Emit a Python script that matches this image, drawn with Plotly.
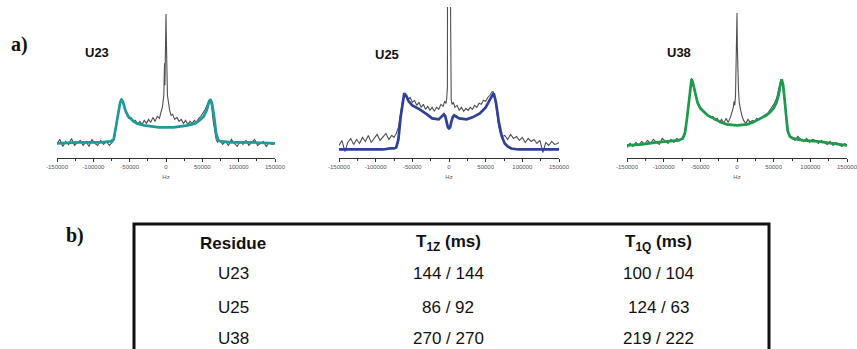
import plotly.graph_objects as go

# ---------------- data ----------------
tick_vals = [-150000, -100000, -50000, 0, 50000, 100000, 150000]
tick_text = ["-150000", "-100000", "-50000", "0", "50000", "100000", "150000"]
minor_vals = [-125000, -75000, -25000, 25000, 75000, 125000]

panel_names = ["U23", "U25", "U38"]
fit_colors = ["#1f9a9b", "#2e3f9c", "#1d9a4c"]

# U23 experimental (x in kHz, intensity)
u23_exp_x = [-150, -146, -142, -138, -134, -130, -126, -122, -118, -114, -110, -106, -102, -98, -94, -90, -86, -82, -78, -74,
             -71, -69, -67, -65, -63, -61, -59, -57, -54, -51, -48, -45, -42, -39, -36, -33, -30, -27, -24, -21, -18, -15, -12, -9,
             -7, -5, -4, -3, -2.5, -2, -1.5, -1, -0.5, 0, 0.5, 1, 1.5, 2, 3, 4, 5, 7, 9, 12, 15, 18, 21, 24, 27, 30, 33, 36, 39,
             42, 45, 48, 51, 54, 57, 59, 61, 63, 65, 67, 69, 71,
             74, 78, 82, 86, 90, 94, 98, 102, 106, 110, 114, 118, 122, 126, 130, 134, 138, 142, 146, 150]
u23_exp_y = [14, 18, 11, 16, 13, 19, 12, 15, 17, 12, 16, 11, 18, 14, 12, 17, 13, 16, 12, 15,
             19, 30, 42, 50, 56, 59, 54, 48, 43, 39, 40, 35, 37, 33, 36, 33, 37, 34, 38, 35, 40, 36, 41, 39,
             45, 50, 56, 62, 78, 94, 72, 90, 120, 143, 118, 84, 70, 62, 57, 51, 47, 42, 43, 38, 40, 36, 38, 34, 37, 33, 36, 34, 37,
             35, 39, 41, 44, 48, 53, 57, 58, 50, 36, 24, 18, 15,
             17, 13, 16, 12, 18, 14, 11, 16, 13, 17, 12, 15, 18, 12, 14, 16, 11, 15, 13, 14]
u23_fit_x = [-150, -120, -90, -76, -72, -69, -66, -63, -61, -59, -56, -52, -46, -40, -30, -20, -10, 0,
             10, 20, 30, 40, 46, 52, 56, 59, 61, 63, 66, 69, 72, 76, 90, 120, 150]
u23_fit_y = [14, 15, 15, 16, 18, 30, 45, 55, 58, 55, 47, 41, 37, 34, 32, 31, 30, 30,
             30, 31, 32, 34, 37, 41, 47, 55, 58, 55, 42, 24, 17, 16, 15, 15, 14]

# U25 experimental
u25_exp_x = [-150, -146, -142, -138, -134, -130, -126, -122, -118, -114, -110, -106, -102, -98, -94, -90, -86, -82, -78,
             -75, -72, -69, -66, -63, -61, -59, -56, -53, -50, -47, -44, -41, -38, -35, -32, -29, -26, -23, -20, -17, -14,
             -11, -8, -6, -4, -3, -2.2, -2, 0, 2, 2.2, 3, 4, 6, 8, 11, 14, 17, 20, 23, 26, 29, 32, 35, 38, 41, 44, 47, 50,
             53, 56, 58, 60, 62, 64, 66, 68, 70, 73,
             76, 80, 84, 88, 92, 96, 100, 104, 108, 112, 116, 120, 124, 128, 132, 136, 140, 144, 148, 150]
u25_exp_y = [12, 17, 6, 15, 19, 13, 18, 14, 20, 16, 22, 15, 19, 23, 17, 21, 24, 18, 22,
             20, 24, 30, 45, 58, 63, 61, 58, 60, 55, 57, 52, 55, 50, 53, 48, 51, 47, 50, 46, 50, 48,
             53, 51, 56, 54, 60, 70, 160, 165, 160, 70, 58, 53, 55, 50, 52, 47, 50, 46, 49, 47, 50, 48, 52, 50, 54, 53, 57, 56,
             60, 62, 65, 66, 62, 52, 40, 30, 24, 21,
             22, 18, 23, 19, 21, 17, 20, 15, 19, 16, 18, 14, 17, 5, 15, 12, 16, 13, 14, 15]
u25_fit_x = [-150, -120, -90, -80, -75, -72, -69, -66, -63, -61, -58, -55, -50, -40, -30, -23, -14, -10, -7, -5, -3, -1.5, 0,
             1.5, 3, 5, 7, 10, 14, 24, 32, 42, 50, 56, 59, 61, 64, 68, 72, 76, 80, 85, 95, 120, 150]
u25_fit_y = [8, 8, 8, 9, 9, 10, 18, 40, 58, 64, 61, 56, 52, 48, 43, 39, 38, 41, 43, 41, 35, 30, 29,
             30, 35, 40, 42, 41, 39, 38, 40, 44, 50, 58, 62, 64, 55, 35, 21, 14, 11, 9, 8, 8, 8]

# U38 experimental
u38_exp_x = [-150, -146, -142, -138, -134, -130, -126, -122, -118, -114, -110, -106, -102, -98, -94, -90, -86, -82, -78, -74,
             -71, -69, -67, -65, -63, -62, -60, -58, -56, -54, -51, -48, -45, -42, -39, -36, -33, -30, -27, -24, -21, -18, -15,
             -12, -9, -7, -5, -4, -3, -2, -1, -0.5, 0, 0.5, 1, 1.5, 2, 3, 4, 5, 7, 9, 12, 15, 18, 21, 24, 27, 30, 33, 36, 39,
             42, 45, 48, 51, 54, 56, 58, 60, 62, 64, 66, 68, 70, 72,
             75, 79, 83, 87, 91, 95, 99, 103, 107, 111, 115, 119, 123, 127, 131, 135, 139, 143, 147, 150]
u38_exp_y = [10, 14, 11, 15, 12, 16, 13, 17, 14, 18, 15, 13, 19, 16, 14, 18, 15, 19, 17, 20,
             26, 36, 50, 64, 74, 79, 75, 67, 60, 56, 51, 48, 46, 43, 42, 40, 41, 37, 39, 35, 38, 34, 39,
             35, 40, 44, 50, 56, 52, 62, 90, 120, 144, 110, 80, 95, 68, 55, 50, 47, 41, 37, 34, 38, 35, 37, 36, 39, 38, 40, 41, 43,
             44, 47, 50, 54, 59, 65, 72, 78, 74, 62, 45, 32, 25, 21,
             20, 17, 21, 18, 16, 19, 15, 18, 17, 14, 17, 15, 13, 16, 12, 15, 13, 11, 14, 12]
u38_fit_x = [-150, -130, -110, -90, -80, -74, -71, -68, -66, -64, -62, -60, -57, -54, -50, -45, -40, -32, -22, -14, 0,
             14, 22, 32, 40, 45, 50, 54, 57, 59, 61, 63, 65, 67, 69, 72, 76, 90, 110, 130, 150]
u38_fit_y = [12, 13, 15, 16, 17, 19, 24, 40, 55, 70, 78, 74, 63, 55, 49, 45, 42, 39, 35, 33, 32,
             33, 35, 39, 42, 45, 49, 55, 63, 72, 78, 72, 55, 38, 27, 21, 19, 17, 16, 14, 12]

exp_x = [u23_exp_x, u25_exp_x, u38_exp_x]
exp_y = [u23_exp_y, u25_exp_y, u38_exp_y]
fit_x = [u23_fit_x, u25_fit_x, u38_fit_x]
fit_y = [u23_fit_y, u25_fit_y, u38_fit_y]

# table
table_headers = ["<b>Residue</b>", "<b>T<sub>1Z</sub> (ms)</b>", "<b>T<sub>1Q</sub> (ms)</b>"]
residues = ["U23", "U25", "U38"]
t1z = ["144 / 144", "86 / 92", "270 / 270"]
t1q = ["100 / 104", "124 / 63", "219 / 222"]

# ---------------- figure ----------------
W, H = 857, 349
SANS = "Liberation Sans, Arial, sans-serif"
SERIF = "Liberation Serif, Times New Roman, serif"

def px(x):
    return x / W

def py(y):
    return 1 - y / H

x_domains = [(57, 275), (339, 559), (627, 847)]
label_pos = [(97, 52), (387, 54), (679, 52)]
y_domain = [py(157.5), py(7)]

fig = go.Figure()
layout = dict(
    width=W, height=H,
    margin=dict(l=0, r=0, t=0, b=0, pad=0, autoexpand=False),
    paper_bgcolor="white", plot_bgcolor="white",
    showlegend=False,
)
annotations = []

def note(x, y, text, font, xanchor="center"):
    annotations.append(dict(x=px(x), y=py(y), xref="paper", yref="paper", text=text,
                            showarrow=False, xanchor=xanchor, yanchor="middle", font=font))

for i in range(3):
    sfx = "" if i == 0 else str(i + 1)
    xa, ya = "x" + sfx, "y" + sfx
    fig.add_trace(go.Scatter(x=[v * 1000 for v in exp_x[i]], y=exp_y[i], mode="lines",
                             line=dict(color="#4f4f4f", width=1.1), xaxis=xa, yaxis=ya,
                             hoverinfo="skip"))
    fig.add_trace(go.Scatter(x=[v * 1000 for v in fit_x[i]], y=fit_y[i], mode="lines",
                             line=dict(color=fit_colors[i], width=2.7), xaxis=xa, yaxis=ya,
                             hoverinfo="skip"))
    layout["xaxis" + sfx] = dict(
        domain=[px(x_domains[i][0]), px(x_domains[i][1])], anchor=ya, automargin=False,
        range=[-150000, 150000], showgrid=False, zeroline=False,
        showline=True, linecolor="#333", linewidth=1,
        ticks="outside", ticklen=3, tickcolor="#333", tickwidth=1,
        tickvals=tick_vals, ticktext=tick_text, ticklabeloverflow="allow",
        tickfont=dict(family=SANS, size=6, color="#555"),
        minor=dict(tickvals=minor_vals, ticks="outside", ticklen=2, tickcolor="#333"),
        title=dict(text="Hz", font=dict(family=SANS, size=6, color="#555"), standoff=6),
    )
    layout["yaxis" + sfx] = dict(domain=y_domain, anchor=xa, range=[0, 150], visible=False,
                                 automargin=False)
    note(label_pos[i][0], label_pos[i][1], "<b>" + panel_names[i] + "</b>",
         dict(family=SANS, size=13, color="#111"))

note(9, 45, "<b>a)</b>", dict(family=SERIF, size=20, color="#111"), xanchor="left")
note(64, 235, "<b>b)</b>", dict(family=SERIF, size=20, color="#111"), xanchor="left")

col_x = [233, 448, 658]
row_y = [273, 307, 338]
for j, h in enumerate(table_headers):
    note(col_x[j], 243, h, dict(family=SANS, size=17, color="#111"))
for r in range(3):
    for j, val in enumerate([residues[r], t1z[r], t1q[r]]):
        note(col_x[j], row_y[r], val, dict(family=SANS, size=17, color="#111"))

layout["annotations"] = annotations
layout["shapes"] = [dict(type="rect", xref="paper", yref="paper",
                         x0=px(134), x1=px(769), y0=py(224), y1=py(380),
                         line=dict(color="#111", width=3), fillcolor="rgba(0,0,0,0)")]
fig.update_layout(**layout)
fig.write_html("out.html", config={"displayModeBar": False},
               post_script="document.body.style.margin='0';")
